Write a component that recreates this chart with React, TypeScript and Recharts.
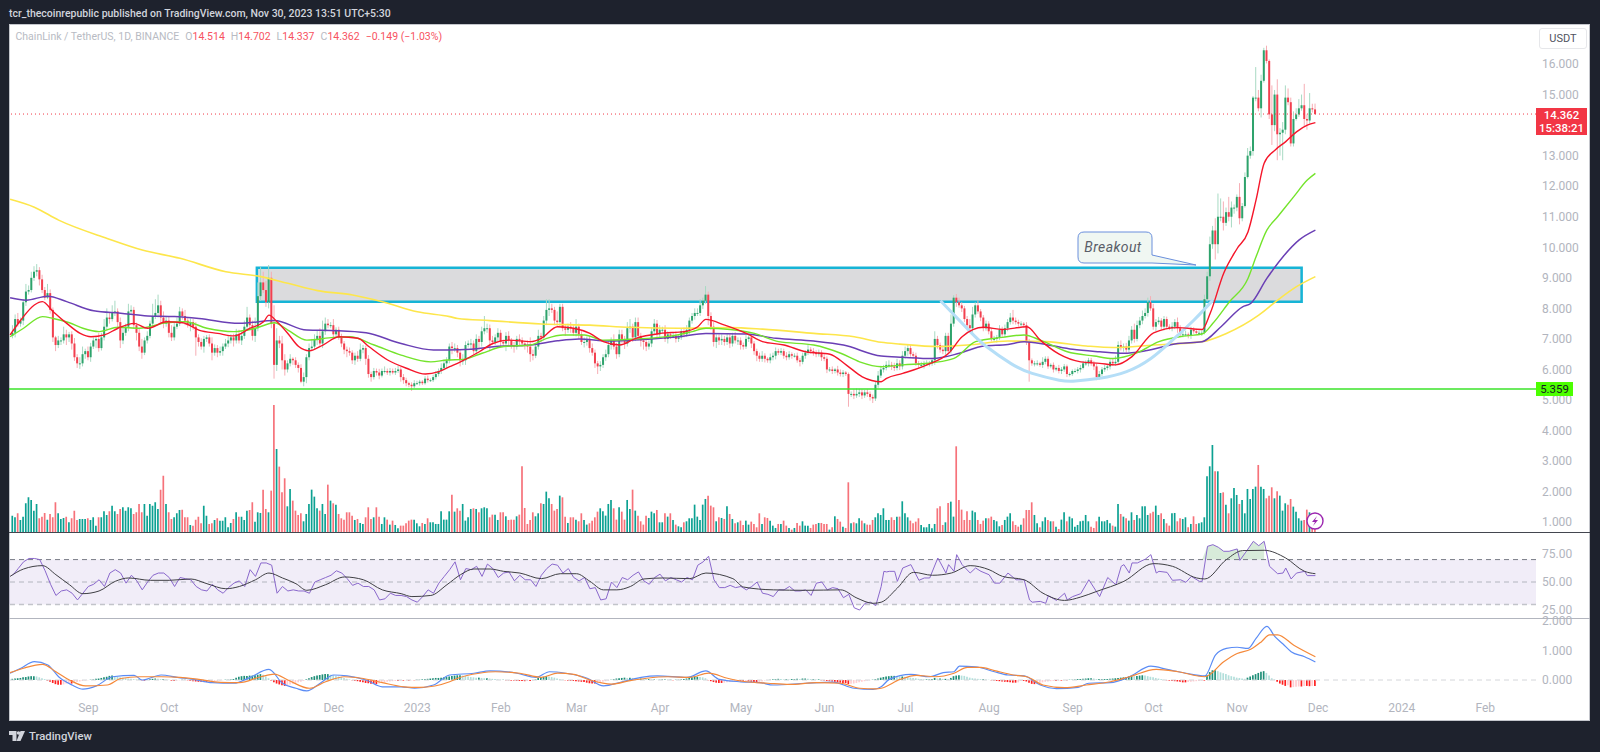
import { Area, Bar, Cell, ComposedChart, Line, ReferenceArea, ReferenceLine, XAxis, YAxis } from "recharts";

const FIRST_DAY = -28; // day 0 is Sep 1 2022
const closes = [
  7.2,7.65,7.5,7.6,8.2,8.55,8.6,9.0,9.2,9.25,8.95,8.6,8.35,8.5,7.95,7.05,6.8,6.95,6.95,7.15,7.05,7.15,6.85,6.4,6.2,6.2,6.5,6.6,
  6.4,6.75,6.95,7.0,6.7,7.05,7.4,7.7,7.65,7.85,7.9,7.55,6.95,7.2,7.4,7.9,7.95,7.45,7.2,6.75,6.55,6.95,7.1,7.5,7.75,7.85,8.1,7.7,7.5,7.6,
  7.2,7.05,7.4,7.5,7.9,7.75,7.6,7.45,7.55,7.4,7.05,6.9,6.75,7.0,7.05,6.85,6.55,6.7,6.55,6.6,6.75,6.85,6.95,7.05,6.95,7.15,6.95,7.1,7.4,7.7,7.45,
  7.1,7.35,8.4,8.85,8.6,8.2,9.0,7.5,6.15,6.95,6.85,6.3,6.0,6.2,6.35,6.3,6.15,6.05,5.6,5.75,6.4,6.7,6.75,7.0,7.1,6.85,7.25,7.5,7.45,7.45,
  7.15,7.3,7.05,6.85,6.65,6.6,6.55,6.3,6.45,6.35,6.65,6.7,6.35,5.85,5.75,5.95,5.9,5.8,5.95,5.95,5.9,5.95,5.9,5.95,6.0,5.75,5.65,5.55,5.5,5.45,5.55,
  5.55,5.6,5.55,5.7,5.65,5.65,5.75,5.85,5.95,6.05,6.2,6.3,6.75,6.7,6.7,6.55,6.3,6.3,6.8,6.85,6.85,6.6,7.0,6.9,7.25,7.35,7.35,6.95,6.9,7.05,7.2,
  6.9,6.85,7.1,6.95,6.8,6.75,7.0,6.95,6.85,6.8,6.75,6.5,6.45,6.75,7.1,7.05,7.6,7.95,8.0,7.95,7.6,7.55,8.05,7.35,7.3,7.4,7.35,7.2,
  7.4,7.15,6.9,6.9,7.0,6.7,6.55,6.2,6.1,6.15,6.4,6.5,6.8,6.95,6.75,6.5,7.15,7.0,6.85,7.35,7.4,7.05,7.55,7.1,6.95,6.9,6.75,6.85,7.25,7.5,7.15,
  7.3,7.3,7.0,7.15,7.1,7.1,7.0,7.05,7.25,7.15,7.3,7.6,7.75,7.85,7.85,8.1,8.25,8.45,7.75,7.4,6.9,7.05,6.95,7.0,6.9,7.05,6.85,7.1,6.95,6.95,
  6.8,6.75,7.0,7.05,6.85,6.6,6.45,6.35,6.45,6.35,6.3,6.4,6.45,6.6,6.55,6.6,6.45,6.4,6.5,6.45,6.45,6.3,6.25,6.45,6.55,6.65,6.6,6.55,6.5,6.55,6.4,
  6.35,6.0,6.0,5.95,6.0,5.9,5.85,5.9,5.85,5.2,5.2,5.15,5.2,5.25,5.15,5.25,5.2,5.1,5.05,5.5,5.8,6.0,6.05,6.15,6.15,6.1,6.05,6.2,6.1,6.45,
  6.6,6.7,6.5,6.45,6.2,6.15,6.15,6.2,6.2,6.2,6.3,7.0,6.8,6.65,6.6,7.1,6.6,7.5,8.35,8.2,8.1,8.0,7.65,7.45,7.35,7.8,8.1,7.9,7.7,7.35,7.5,
  7.25,7.0,7.0,7.05,7.3,7.15,7.35,7.55,7.7,7.6,7.55,7.5,7.5,7.45,6.9,6.3,6.2,6.2,6.2,6.15,6.25,6.35,6.1,6.15,6.0,6.05,5.95,6.0,6.1,5.85,5.85,
  5.95,5.95,6.0,6.05,6.2,6.2,6.3,6.2,6.1,5.75,5.85,6.0,6.05,6.1,6.25,6.2,6.25,6.8,6.7,6.75,6.65,6.95,7.3,7.0,7.45,7.6,7.75,7.85,8.2,8.0,
  7.4,7.55,7.6,7.4,7.65,7.4,7.35,7.4,7.55,7.35,7.15,7.15,7.15,7.1,7.3,7.25,7.2,7.2,7.2,8.3,9.05,10.1,10.55,10.1,11.0,11.0,10.8,11.15,11.0,11.3,11.3,
  11.65,10.95,11.35,12.3,13.0,13.15,14.9,14.9,14.55,15.45,16.45,16.1,14.35,14.0,15.0,13.7,13.75,13.85,14.9,14.75,13.4,14.2,14.35,14.55,14.65,14.2,14.15,14.55,14.514,14.362,
];
const wickUp = [
  25,15,20,10,10,25,15,20,18,20,10,15,10,30,12,8,5,15,10,25,15,8,10,18,10,20,25,8,
  15,12,10,10,20,15,25,30,15,25,35,10,15,20,10,25,15,10,8,15,25,10,15,10,40,45,35,15,20,15,
  12,25,15,20,15,10,20,8,12,10,15,10,12,10,8,10,20,12,10,15,10,15,15,10,12,18,15,15,20,35,10,
  15,35,45,50,35,30,42,20,60,40,15,25,20,10,15,5,10,8,12,15,10,15,25,15,18,25,35,20,15,10,
  20,8,10,12,8,10,12,8,10,15,20,10,8,12,8,10,8,12,8,15,8,10,8,10,12,8,10,8,5,8,10,
  8,6,5,8,10,6,8,10,8,15,12,10,10,15,15,10,8,20,12,10,15,10,15,10,15,40,15,12,15,10,15,
  10,8,12,15,8,10,10,15,10,8,15,30,15,10,20,10,15,35,30,15,10,30,10,10,12,10,15,10,
  25,10,12,15,8,10,15,10,8,12,10,15,15,10,20,12,15,15,10,20,25,10,15,15,10,8,12,10,12,15,12,
  15,10,15,10,8,10,15,10,10,12,15,10,10,15,15,20,10,28,10,12,15,10,10,15,10,12,10,10,12,10,
  10,8,12,10,10,8,8,10,15,8,5,12,10,12,8,10,8,12,10,6,8,10,8,10,8,15,8,10,8,10,8,
  10,8,8,10,5,12,10,8,5,5,8,15,18,12,10,8,10,8,8,10,15,12,10,12,15,10,12,15,10,15,
  15,12,10,8,10,8,10,8,10,8,8,25,10,8,15,10,10,30,8,12,15,10,8,10,20,25,10,15,8,8,10,
  8,10,10,8,15,10,12,10,15,25,10,8,8,5,10,10,6,8,10,5,15,8,8,5,8,5,10,8,8,6,5,
  5,8,8,10,8,10,8,8,8,10,10,8,10,6,8,10,20,12,15,10,12,15,12,20,15,12,18,15,15,20,
  15,10,12,8,10,8,8,15,10,15,10,8,12,6,10,8,8,8,8,15,15,25,15,40,76,60,50,15,50,20,10,
  8,45,10,15,25,15,5,100,25,20,8,15,5,95,15,50,15,25,40,30,15,25,20,30,35,70,15,50,15,19,
];
const wickDown = [
  8,15,10,10,15,12,10,8,10,15,20,10,8,5,12,15,20,10,15,10,25,15,20,12,15,18,10,15,
  10,15,8,25,12,8,10,12,15,8,10,15,25,12,10,15,10,12,25,15,20,8,10,8,12,10,15,20,15,10,
  15,12,10,8,8,12,15,8,20,10,60,15,10,20,10,10,25,10,15,10,15,8,12,10,20,10,10,15,10,12,10,
  15,20,10,15,10,15,20,15,45,20,15,30,20,10,10,15,10,15,5,15,20,10,8,10,20,10,15,12,10,10,
  15,10,8,12,15,20,10,12,15,10,8,12,20,12,15,8,10,12,6,8,8,10,6,8,6,15,12,10,8,15,6,
  5,8,6,5,8,6,6,8,8,10,8,15,10,20,12,15,20,15,15,8,20,10,12,25,15,10,15,35,8,10,15,
  15,10,25,15,12,20,10,15,10,15,20,25,15,8,10,15,10,15,20,10,15,12,15,10,20,10,15,10,
  12,15,10,18,12,15,10,15,25,15,10,12,10,15,10,15,10,15,18,10,15,15,12,15,20,25,15,10,12,10,15,
  10,12,10,15,10,8,12,10,8,10,8,15,10,12,10,10,12,10,30,10,15,20,15,15,12,10,15,10,10,15,
  15,10,8,10,15,12,18,10,10,12,8,10,10,12,8,8,10,10,8,10,6,8,15,8,10,8,8,10,10,8,12,
  8,12,8,10,8,10,8,10,6,42,10,12,8,10,12,8,10,12,15,8,10,8,10,8,10,12,10,8,12,10,
  10,15,8,10,8,10,8,12,8,10,8,15,12,10,10,12,10,8,10,15,8,12,10,8,10,15,10,8,12,10,8,
  10,8,10,12,8,10,8,10,8,12,8,10,8,8,10,70,8,10,8,6,10,8,8,6,10,6,8,10,8,10,8,
  6,6,8,10,5,8,10,8,12,10,8,6,8,8,10,8,8,10,8,12,10,8,10,12,8,10,12,8,12,8,
  10,15,8,10,12,8,6,10,8,15,8,10,6,8,10,8,6,8,10,5,8,15,15,50,30,15,25,10,15,35,20,
  12,20,10,5,5,10,15,12,10,30,6,8,15,65,20,85,70,90,15,10,10,10,5,8,8,25,30,10,10,3,
];
const volumeA = [
  50,45,57,37,47,87,105,97,65,85,42,47,58,38,55,45,90,57,40,43,47,30,42,65,37,40,40,40,42,37,45,20,45,45,63,52,63,80,63,55,70,75,65,75,72,55,60,85,60,85,50,85,80,90,70,128,170,85,60,40,45,57,67,68,45,45,22,20,38,47,27,80,50,25,27,37,42,35,35,45,15,28,40,60,47,47,37,65,67,90,32,60,58,128,70,60,125,382,250,197,120,162,78,130,95,65,52,57,33,55,85,128,107,72,65,85,55,143,95,87,83,55,42,38,60,60,50,37,40,28,25,45,75,40,45,75,47,25,45,38,23,35,22,12,20,20,27,35,38,38,27,18,28,25,42,30,30,25,25,63,38,38,63,
];
const volumeB = [
  113,62,72,65,85,35,45,70,72,70,60,72,75,72,45,53,53,37,60,60,48,37,38,38,48,53,198,73,25,37,60,48,57,87,85,122,102,85,65,70,110,105,47,28,45,45,38,33,57,37,23,27,35,45,62,72,63,50,85,97,72,38,75,62,38,97,70,128,65,50,33,23,50,43,62,57,67,30,30,57,47,57,37,23,18,15,30,33,42,42,83,47,37,83,100,110,80,75,33,45,43,40,78,55,40,27,30,35,22,35,23,32,25,15,57,25,45,43,35,20,13,25,25,35,20,13,8,13,28,20,33,20,20,13,23,25,28,28,25,25,8,15,48,40,32,17,13,150,27,30,27,42,35,27,23,23,37,45,57,50,72,35,35,
];
const volumeC = [
  52,72,37,37,45,37,47,47,93,57,45,35,27,32,42,22,15,15,25,12,25,72,78,22,30,88,92,47,258,97,68,37,63,37,65,60,37,25,35,42,42,47,37,33,18,22,37,47,57,33,22,17,23,42,67,67,90,52,27,15,33,45,37,33,33,17,10,38,60,33,47,42,17,22,33,35,52,33,17,13,33,47,33,33,37,27,20,17,85,55,47,42,35,60,37,52,42,78,78,52,57,62,80,52,57,40,27,20,57,58,33,42,40,45,15,25,48,25,27,30,45,168,198,262,183,183,118,120,83,57,102,133,112,85,97,57,130,100,130,137,202,137,130,102,110,135,102,123,110,65,87,83,100,77,62,42,35,37,68,60,15,10,
];
const macdHist = [
  4,5,6,7,9,10,12,13,13, 12,9,6,3, -2,-6,-10,-14,-16,-16,-15,-12,-10,-12,-9,-7,-5,-3, -2,-1,1,2,4,5,7,9,11,14,15,
  13,11,9,8,6,5,4,3,2,2,-1,-2,1,3,4,5,4,3,3,2,1,
  -2,-3,-2,-1,1,1,-1,-3,-4,-5,-6,-6,-7,-7,-6,-5,-4,-3,-2,-1,1,1,2,3,8,11,13,14,14,15,
  15,16,18,20,18,12,6,-2,-8,-12,-15,-18,-20,-18,-15,-13,-10,-8,-6,-3,2,6,10,13,15,17,19,20,20,18,
  16,14,12,10,7,4,2,-1,-3,-4,-6,-8,-10,-11,-13,-13,-14,-12,-10,-8,-6,-5,-4,-3,-3,-2,-2,-1,-2,-1,-1,
  1,1,2,3,4,5,6,7,7,8,9,10,12,14,15,16,16,15,14,12,10,9,8,8,7,6,6,5,4,3,2,
  1,1,-1,-1,-2,-2,-3,-3,-3,-4,-3,-3,-2,2,7,9,11,13,12,10,8,5,3,1,-1,-2,-3,-3,
  -4,-5,-6,-7,-9,-11,-12,-12,-10,-8,-6,-4,-2,1,3,5,6,7,8,7,8,7,6,5,5,4,3,3,2,2,1,
  1,2,2,1,1,-1,1,1,2,3,5,7,9,11,11,10,9,6,-1,-4,-7,-9,-10,-10,-9,-8,-7,-5,-4,-4,
  -4,-4,-3,-4,-6,-8,-9,-7,-5,-2,-1,1,2,3,4,3,2,3,2,3,3,4,3,5,5,4,3,3,2,2,-1,
  -2,-3,-4,-5,-6,-8,-9,-10,-11,-14,-13,-12,-10,-8,-6,-4,-2,-1,1,3,5,8,10,12,13,14,14,13,12,12,
  11,10,8,7,6,4,3,2,2,2,3,7,5,5,4,4,3,7,13,15,16,15,14,11,8,6,5,4,3,3,2,
  1,-1,-2,-3,-4,-5,-6,-7,-8,-9,-9,-8,-3,-3,-5,-9,-13,-14,-13,-11,-8,-6,-5,-4,-3,-3,-2,-2,-1,-1,1,
  1,2,3,3,4,5,6,6,5,3,3,3,3,3,4,5,6,7,8,9,10,12,14,13,14,15,16,15,13,11,
  9,7,5,3,1,-1,-2,-3,-4,-5,-6,-8,-8,-7,-6,-5,-4,-3,-2,-2,16,27,33,33,30,26,23,20,16,13,11,
  8,7,5,4,8,12,16,20,24,28,30,24,15,6,2,-6,-12,-16,-20,-18,-25,-24,-23,-22,-22,-20,-20,-21,-20,-20,
];

const redDays = [-29,-25,-20,-17,-13,-8,-3,1,6,11,17,22,29,35,41,48,54,60,65,67,70,74,78,82,87,93,100,104,111,118,125,130,134,138,145,150,156,164,168,174,180,186,191,197,203,212,221,226,229,236,244,250,258,266,275,281,287,294,296,302,311,319,324,332,339,348,353,360,368,375,381,387,395,404,413,416,421,426,430,433,436,440,444,448,452,455];
const redValues = [7.13,7.62,8.11,8.22,7.89,7.51,7.18,7.07,7.13,7.35,7.51,7.35,7.56,7.53,7.29,7.18,7.1,7.35,7.56,7.78,7.56,7.18,6.75,6.61,6.8,7.07,7.02,6.75,6.31,6.04,5.85,5.93,6.09,6.25,6.58,6.85,6.96,6.91,7.02,7.4,7.35,7.18,6.91,6.8,7.02,7.18,7.24,7.4,7.64,7.45,7.18,6.91,6.8,6.58,6.5,6.15,5.76,5.6,5.71,5.87,6.15,6.53,7.07,7.38,7.31,7.4,6.96,6.5,6.25,6.2,6.15,6.42,7.2,7.37,7.31,7.84,9.15,9.96,10.5,11.55,12.75,13.18,13.46,13.78,14.0,14.08];
const greenDays = [-29,-24,-17,-13,-7,-2,4,11,19,29,36,44,54,62,69,74,81,91,97,106,116,127,133,139,146,154,164,170,176,184,191,201,216,224,229,238,247,256,269,279,286,294,302,313,321,329,339,347,353,363,373,380,389,397,406,413,417,423,430,433,437,441,447,452,455];
const greenValues = [7.07,7.35,7.73,7.67,7.53,7.35,7.24,7.38,7.35,7.53,7.56,7.35,7.24,7.35,7.53,7.29,6.96,7.05,7.07,6.8,6.47,6.25,6.31,6.33,6.53,6.75,6.8,7.02,7.13,7.13,6.96,6.99,7.09,7.24,7.35,7.31,7.18,6.91,6.8,6.53,6.25,6.09,6.15,6.22,6.36,6.91,7.05,7.13,6.96,6.58,6.44,6.36,6.55,6.91,7.09,7.16,7.51,8.2,8.98,9.69,10.56,11.0,11.66,12.2,12.42];
const purpleDays = [-29,-23,-15,-8,2,12,22,32,41,56,69,81,92,103,116,128,133,142,151,164,174,182,193,207,219,229,244,255,269,280,294,302,313,323,332,341,347,355,365,375,384,392,404,413,420,428,431,437,443,449,455];
const purpleValues = [8.35,8.27,8.4,8.22,7.92,7.84,7.75,7.73,7.67,7.51,7.6,7.29,7.27,7.2,6.85,6.64,6.64,6.66,6.75,6.8,6.94,7.0,6.93,6.99,7.07,7.18,7.16,7.02,6.93,6.8,6.44,6.4,6.36,6.53,6.77,6.82,6.91,6.82,6.66,6.58,6.53,6.61,6.85,6.91,7.4,8.05,8.16,8.98,9.69,10.24,10.56];
const yellowDays = [-29,-20,-11,7,20,34,51,64,74,85,98,109,122,134,137,149,168,186,201,219,238,250,269,284,294,301,315,326,341,355,370,380,395,413,422,434,441,448,455];
const yellowValues = [11.57,11.31,10.89,10.29,9.91,9.64,9.2,9.04,8.82,8.58,8.44,8.22,7.89,7.73,7.67,7.6,7.49,7.45,7.38,7.35,7.37,7.32,7.18,7.07,6.89,6.83,6.75,6.8,6.93,6.91,6.77,6.72,6.8,6.91,7.18,7.78,8.27,8.71,9.04];
const cupDays = [316,327,333,342,350,360,366,375,385,394,402,410,417];
const cupValues = [8.25,7.24,6.75,6.2,5.87,5.65,5.62,5.71,5.93,6.36,6.96,7.62,8.27];

const rsiEarly = [56,62,68,71,71,70,60,48,38,42,43,40,34,40,46,48,52,46,58,61,58,49,56,51,43,50,56,58,58,54,46,54,53,52,46,43,42,48,43,40,45,49,51,46,61,55,67,67,65,40,46,42,43,42,42,40,50,52,54,56,60,58,53,47,49,46,46,43,34,35,40,38,38,37,34,32,37,43,40,49,55,61,68];
const rsiMiddle = [52,62,61,64,55,66,62,54,58,59,51,56,52,52,46,56,62,66,65,58,62,54,51,54,44,45,34,35,50,45,54,52,56,59,51,48,54,57,51,54,52,50,54,52,65,68,73,52,45,45,47,45,46,43,46,50,40,39,37,43,43,46,42,42,43,38,49,50,43,45,44,36,39,27,25,31,32,29,45,59];
const rsiLateDays = [294,295,297,299,300,302,305,308,310,312,315,316,318,319,321,322,324,327,329,331,334,336,338,341,344,347,349,350,353,355,356,359,362,363,365,368,371,375,378,381,383,384,386,387,389,392,394,396,397,400,402,405,407,409,412,413,415,417,419,421,423,426,427,429,432,434,436,438,441,443,444,446,448,451,452,455];
const rsiLate = [46,59.5,59.5,59.5,50.6,62.5,65.5,51.5,53.6,53.6,71.4,67,58,65.5,59.5,74.4,65.5,58,62.5,59.5,56.5,49,49,58,52,52,34,32,32.7,31,37.8,33.6,40,34,37,39.6,52,37,54,47.6,64,65.5,58,67,67,70.5,74.4,58,59.5,58.6,51.5,52,49.7,55,50.6,50.6,81.8,83.3,81,77.4,77.4,79.5,69.3,76,86.3,82.4,86.3,64,57.4,58,62.5,52.7,58,59.5,55.7,55.7];
const rsiMaDays = [-29,-24,-17,-12,-7,-2,4,10,15,23,30,38,44,51,56,62,67,72,77,81,88,95,102,109,116,120,127,133,138,143,149,154,160,168,175,181,186,191,196,201,206,213,223,229,239,243,254,266,279,285,291,294,300,306,313,320,327,334,339,347,354,362,368,374,384,395,402,411,414,422,428,436,444,451,455];
const rsiMaValues = [55,61.6,64.6,56.5,47.6,39.6,42,50.6,53.6,51.5,51.5,52.7,48.5,44,46,52,58,53.6,48.5,42.6,47.6,54.5,52,43,39.6,37,38,47.6,56.5,61.6,61.6,59.5,58,53,57.4,57.4,50.6,43,43,46,52.7,53.6,53,58,53,45.5,43,42.6,43,35.7,31,32,44.6,58.6,56,58,64.6,61,55,52,40,33.6,36.6,41.7,50.6,66.4,64,53.6,52.7,70,78,78.3,71.4,59.5,57.4];

const macdDays = [-29,-25,-20,-15,-11,-6,-2,3,9,17,20,27,33,39,46,54,60,67,72,77,81,86,91,96,103,109,116,121,128,134,143,149,159,166,171,177,185,191,198,205,211,222,229,234,242,249,254,266,276,284,291,294,297,305,312,317,321,323,329,336,341,347,353,359,367,371,379,386,394,400,407,414,418,422,426,430,433,437,440,443,446,451,455];
const macdValues = [0.23,0.4,0.62,0.51,0.11,-0.17,-0.31,-0.2,0.11,0.16,0,0.17,0.09,0.02,-0.09,-0.11,0.09,0.36,-0.11,-0.28,-0.37,-0.11,0.17,0.14,0,-0.23,-0.23,-0.28,-0.17,0.17,0.23,0.31,0.23,0.09,0.28,0.23,0.06,-0.2,-0.06,0.09,0.14,0.09,0.31,0.02,-0.06,-0.09,-0.17,-0.11,-0.07,-0.28,-0.32,-0.23,0.02,0.19,0.11,0.25,0.28,0.47,0.45,0.28,0.17,0.14,-0.17,-0.29,-0.25,-0.11,-0.09,0.11,0.47,0.36,0.23,0.14,0.85,1.07,1.11,1.07,1.41,1.82,1.47,1.22,0.96,0.79,0.61];
const signalDays = [-29,-24,-17,-12,-7,-1,7,12,19,27,34,41,49,56,64,69,74,82,88,95,102,109,117,123,134,137,145,151,160,168,174,180,186,194,201,207,215,223,230,237,244,252,260,270,279,286,292,294,301,307,314,321,326,331,336,343,348,354,362,370,379,386,396,404,414,421,426,431,435,438,441,447,455];
const signalValues = [0.25,0.4,0.53,0.28,0,-0.2,-0.17,0.05,0.11,0.11,0.09,0.02,-0.08,-0.09,0.11,0.2,0,-0.28,-0.06,0.11,0.05,-0.09,-0.23,-0.25,-0.06,0.06,0.23,0.28,0.23,0.09,0.23,0.19,0,-0.14,-0.02,0.06,0.11,0.09,0.23,0.06,-0.06,-0.11,-0.15,-0.09,-0.11,-0.28,-0.3,-0.28,0.02,0.16,0.11,0.23,0.43,0.43,0.32,0.17,0.11,-0.17,-0.26,-0.17,-0.06,0.11,0.36,0.28,0.11,0.62,0.9,1.04,1.3,1.53,1.53,1.18,0.79];

const priceTicks = [1,2,3,4,5,6,7,8,9,10,11,12,13,15,16];
const rsiTicks = [25, 50, 75];
const macdTicks = [0, 1, 2];
const timeTickDays = [0,30,61,91,122,153,181,212,242,273,303,334,365,395,426,456,487,518];
const timeTickLabels = ["Sep","Oct","Nov","Dec","2023","Feb","Mar","Apr","May","Jun","Jul","Aug","Sep","Oct","Nov","Dec","2024","Feb"];

const toMap = (days: number[], values: number[]) => new Map(days.map((d, i) => [d, values[i]]));
const redMap = toMap(redDays, redValues);
const greenMap = toMap(greenDays, greenValues);
const purpleMap = toMap(purpleDays, purpleValues);
const yellowMap = toMap(yellowDays, yellowValues);
const cupMap = toMap(cupDays, cupValues);
const rsiMap = new Map<number, number>();
rsiEarly.forEach((v, i) => rsiMap.set(FIRST_DAY + i * 2, v));
rsiMiddle.forEach((v, i) => rsiMap.set(138 + i * 2, v));
rsiLateDays.forEach((d, i) => rsiMap.set(d, rsiLate[i]));
const rsiMaMap = toMap(rsiMaDays, rsiMaValues);
const macdMap = toMap(macdDays, macdValues);
const signalMap = toMap(signalDays, signalValues);
const volumeMap = new Map<number, number>();
volumeA.forEach((v, i) => volumeMap.set(FIRST_DAY + i, v));
volumeB.forEach((v, i) => volumeMap.set(135 + i, v));
volumeC.forEach((v, i) => volumeMap.set(294 + i, v));

const rows = Array.from({ length: closes.length + 1 }, (_, k) => {
  const day = FIRST_DAY - 1 + k;
  const i = k - 1;
  const row: any = {
    day,
    red: redMap.get(day),
    green: greenMap.get(day),
    purple: purpleMap.get(day),
    yellow: yellowMap.get(day),
    cup: cupMap.get(day),
    rsi: rsiMap.get(day),
    rsiMa: rsiMaMap.get(day),
    macd: macdMap.get(day),
    signal: signalMap.get(day),
    vol: volumeMap.get(day),
  };
  if (i >= 0) {
    const close = closes[i];
    const open = i > 0 ? closes[i - 1] : 7.1;
    row.open = open;
    row.close = close;
    row.high = Math.max(open, close) + wickUp[i] / 100;
    row.low = Math.min(open, close) - wickDown[i] / 100;
    row.range = [row.low, row.high];
    row.hist = macdHist[i] / 100;
    row.prevHist = i > 0 ? macdHist[i - 1] / 100 : 0;
  }
  if (row.rsi !== undefined && row.rsi > 70 && day >= 415 && day <= 438) row.over = [70, row.rsi];
  if (row.rsi !== undefined && (day === 413 || day === 439)) row.over = [70, 70];
  return row;
});

const histColor = (r: any) => {
  if (r.hist === undefined) return "transparent";
  if (r.hist >= 0) return r.hist >= r.prevHist ? "#1f8f78" : "#b2dfdb";
  return r.hist <= r.prevHist ? "#ff1f1f" : "#ffcdd2";
};

const Candle = (props: any) => {
  const { x, y, width, height, payload } = props;
  if (payload.range === undefined) return null;
  const { open, close, high, low } = payload;
  const up = close >= open;
  const k = height / (high - low);
  const top = y + (high - Math.max(open, close)) * k;
  const bodyH = Math.max(Math.abs(close - open) * k, 1);
  const cx = x + width / 2;
  return (
    <g>
      <line x1={cx} x2={cx} y1={y} y2={y + height} stroke={up ? "#a8dac3" : "#f6aeb5"} strokeWidth={1} />
      <rect x={x} y={top} width={width} height={bodyH} fill={up ? "#2ea36c" : "#f2404f"} />
    </g>
  );
};

const CHART_W = 1581;
const AXIS_W = 54;
const X_DOMAIN: [number, number] = [-29.4, 536.8];
const tickStyle = { fill: "#b2b5be", fontSize: 12, fontFamily: "Roboto" };
const noMargin = { top: 0, right: 0, bottom: 0, left: 0 };
const pane = (top: number, height: number): React.CSSProperties => ({ position: "absolute", left: 9, top, width: CHART_W, height });

const xAxisHidden = <XAxis dataKey="day" type="number" domain={X_DOMAIN} allowDataOverflow hide />;

export default function App() {
  return (
    <div style={{ position: "absolute", left: 0, top: 0, width: 1600, height: 752, background: "#1e222d", overflow: "hidden", fontFamily: "Roboto" }}>
      <div style={{ position: "absolute", left: 9, top: 7, color: "#d1d4dc", fontSize: 10.5, fontWeight: 500, whiteSpace: "nowrap" }}>
        tcr_thecoinrepublic published on TradingView.com, Nov 30, 2023 13:51 UTC+5:30
      </div>
      <div style={{ position: "absolute", left: 9, top: 24, width: CHART_W, height: 697, background: "#fff", boxShadow: "inset 0 0 0 1px #c4c6cc" }} />

      <div style={pane(24, 508.3)}>
        <ComposedChart width={CHART_W} height={508.3} data={rows} margin={noMargin}>
          {xAxisHidden}
          <YAxis orientation="right" width={AXIS_W} domain={[0, 1525]} hide={false} tick={false} axisLine={false} tickLine={false} />
          <Bar dataKey="vol" barSize={1.7} isAnimationActive={false}>
            {rows.map((r) => (
              <Cell key={r.day} fill={r.close >= r.open ? "#0ca192" : "#f6727a"} />
            ))}
          </Bar>
        </ComposedChart>
      </div>

      <div style={pane(24, 508.3)}>
        <ComposedChart width={CHART_W} height={508.3} data={rows} margin={noMargin}>
          {xAxisHidden}
          <YAxis orientation="right" width={AXIS_W} domain={[0.669, 17.31]} ticks={priceTicks} interval={0} allowDataOverflow
            tickFormatter={(v: number) => v.toFixed(3)} tick={tickStyle} axisLine={false} tickLine={false} tickMargin={0} />
          <ReferenceArea x1={62.5} x2={449.9} y1={8.22} y2={9.33} fill="#dbdbdd" fillOpacity={1} stroke="#16b4d6" strokeWidth={2.5} />
          <ReferenceLine y={5.359} stroke="#3be32a" strokeWidth={1.5} />
          <ReferenceLine y={14.362} stroke="#f23645" strokeDasharray="1 3" />
          <Line dataKey="yellow" type="monotone" stroke="#fde64b" strokeWidth={1.6} dot={false} connectNulls isAnimationActive={false} />
          <Line dataKey="purple" type="monotone" stroke="#6a3fb5" strokeWidth={1.5} dot={false} connectNulls isAnimationActive={false} />
          <Line dataKey="green" type="monotone" stroke="#74e42c" strokeWidth={1.4} dot={false} connectNulls isAnimationActive={false} />
          <Line dataKey="cup" type="natural" stroke="#b5def7" strokeWidth={3} dot={false} connectNulls isAnimationActive={false} />
          <Bar dataKey="range" barSize={2} shape={<Candle />} isAnimationActive={false} />
          <Line dataKey="red" type="monotone" stroke="#f5162a" strokeWidth={1.4} dot={false} connectNulls isAnimationActive={false} />
        </ComposedChart>
      </div>

      <div style={pane(532.3, 86)}>
        <ComposedChart width={CHART_W} height={86} data={rows} margin={noMargin}>
          {xAxisHidden}
          <YAxis orientation="right" width={AXIS_W} domain={[17.9, 94.6]} ticks={rsiTicks} interval={0} allowDataOverflow
            tickFormatter={(v: number) => v.toFixed(2)} tick={tickStyle} axisLine={false} tickLine={false} tickMargin={0} />
          <ReferenceArea y1={30} y2={70} fill="#7e57c2" fillOpacity={0.11} stroke="none" />
          <ReferenceLine y={70} stroke="#787b86" strokeDasharray="5 4" />
          <ReferenceLine y={50} stroke="#b2b5be" strokeDasharray="5 4" />
          <ReferenceLine y={30} stroke="#c2c4ca" strokeWidth={1.4} strokeDasharray="5 4" />
          <Area dataKey="over" stroke="none" fill="#9ccc9f" fillOpacity={0.4} connectNulls isAnimationActive={false} />
          <Line dataKey="rsi" stroke="#8a68cc" strokeWidth={1} dot={false} connectNulls isAnimationActive={false} />
          <Line dataKey="rsiMa" type="monotone" stroke="#3f3f44" strokeWidth={1} dot={false} connectNulls isAnimationActive={false} />
        </ComposedChart>
      </div>

      <div style={pane(610, 111)}>
        <ComposedChart width={CHART_W} height={111} data={rows} margin={noMargin}>
          <XAxis dataKey="day" type="number" domain={X_DOMAIN} allowDataOverflow ticks={timeTickDays} interval={0} height={24}
            tickFormatter={(d: number) => timeTickLabels[timeTickDays.indexOf(d)]} tick={tickStyle} axisLine={false} tickLine={false} tickMargin={0} />
          <YAxis orientation="right" width={AXIS_W} domain={[-0.576, 2.373]} ticks={macdTicks} interval={0} allowDataOverflow
            tickFormatter={(v: number) => v.toFixed(3)} tick={tickStyle} axisLine={false} tickLine={false} tickMargin={0} />
          <ReferenceLine y={0} stroke="#d4d6da" strokeDasharray="5 4" />
          <Bar dataKey="hist" barSize={1.7} isAnimationActive={false}>
            {rows.map((r) => (
              <Cell key={r.day} fill={histColor(r)} />
            ))}
          </Bar>
          <Line dataKey="macd" type="monotone" stroke="#5b8cf5" strokeWidth={1.2} dot={false} connectNulls isAnimationActive={false} />
          <Line dataKey="signal" type="monotone" stroke="#f5893a" strokeWidth={1.2} dot={false} connectNulls isAnimationActive={false} />
        </ComposedChart>
      </div>

      <div style={{ position: "absolute", left: 9, top: 532, width: CHART_W, height: 1, background: "#43464f" }} />
      <div style={{ position: "absolute", left: 9, top: 618, width: CHART_W, height: 1.4, background: "#b2b5be" }} />

      <div style={{ position: "absolute", left: 15.5, top: 30, fontSize: 10.5, whiteSpace: "nowrap", color: "#b8bbc3" }}>
        ChainLink / TetherUS, 1D, BINANCE
        <span style={{ marginLeft: 6 }}>O</span><span style={{ color: "#f7525f" }}>14.514</span>
        <span style={{ marginLeft: 6 }}>H</span><span style={{ color: "#f7525f" }}>14.702</span>
        <span style={{ marginLeft: 6 }}>L</span><span style={{ color: "#f7525f" }}>14.337</span>
        <span style={{ marginLeft: 6 }}>C</span><span style={{ color: "#f7525f" }}>14.362</span>
        <span style={{ marginLeft: 6, color: "#f7525f" }}>−0.149 (−1.03%)</span>
      </div>

      <div style={{ position: "absolute", left: 1539, top: 28, width: 48, height: 21, boxSizing: "border-box", border: "1px solid #e6e7ea", borderRadius: 3, background: "#fff", color: "#50535e", fontSize: 11, lineHeight: "20px", textAlign: "center" }}>
        USDT
      </div>
      <div style={{ position: "absolute", left: 1536, top: 108, width: 51, height: 27, background: "#f23645", color: "#fff", fontSize: 11.4, fontWeight: 500, lineHeight: "13px", paddingTop: 1, boxSizing: "border-box", textAlign: "center" }}>
        14.362<br />15:38:21
      </div>
      <div style={{ position: "absolute", left: 1536, top: 382, width: 37, height: 14, background: "#4cff00", color: "#131722", fontSize: 11.4, lineHeight: "14px", textAlign: "center" }}>
        5.359
      </div>

      <svg width={1600} height={752} style={{ position: "absolute", left: 0, top: 0, pointerEvents: "none" }}>
        <path d="M1084 232 H1146 Q1152 232 1152 238 V255 L1196 265 L1152 263 H1084 Q1078 263 1078 257 V238 Q1078 232 1084 232 Z" fill="#f0f7f2" stroke="#6a8fdc" strokeWidth={1} />
        <text x={1113} y={252} textAnchor="middle" fontStyle="italic" fontSize={14} letterSpacing={0.4} fill="#5a5e68" fontFamily="Roboto">Breakout</text>
        <circle cx={1315} cy={521} r={8} fill="#fff" stroke="#9c27b0" strokeWidth={1.4} />
        <path d="M1317 516 L1312 522 H1315 L1313 526 L1318 520 H1315 Z" fill="#9c27b0" />
        <path d="M9 731 H16.5 V741 H12.5 V735 H9 Z" fill="#d1d4dc" />
        <circle cx={18.5} cy={733} r={1.8} fill="#d1d4dc" />
        <path d="M20.5 731 H25 L20.5 741 H16.5 Z" fill="#d1d4dc" />
      </svg>
      <div style={{ position: "absolute", left: 29, top: 730, color: "#d1d4dc", fontSize: 11.3, fontWeight: 500, whiteSpace: "nowrap" }}>TradingView</div>
    </div>
  );
}
